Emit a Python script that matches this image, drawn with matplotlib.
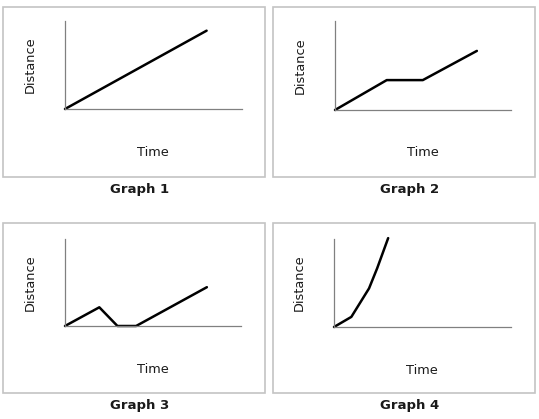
import matplotlib.pyplot as plt
from matplotlib.patches import Rectangle

W, H = 539, 419

# distance-time data for each graph (axis units 0..10)
time1 = [0, 8.0]
dist1 = [0, 8.9]
time2 = [0, 2.94, 4.99, 8.06]
dist2 = [0, 3.36, 3.36, 6.64]
time3 = [0, 1.95, 2.98, 4.04, 8.06]
dist3 = [0, 2.15, 0, 0, 4.46]
time4 = [0, 0.98, 1.98, 2.44, 3.06]
dist4 = [0, 1.15, 4.39, 6.68, 10.1]
titles = ["Graph 1", "Graph 2", "Graph 3", "Graph 4"]

series = [(time1, dist1), (time2, dist2), (time3, dist3), (time4, dist4)]

# panel layout in pixels: box (x0, y0, x1, y1), axes (x0, y0, x1, y1)
boxes = [(3, 7, 265, 177), (273, 7, 535, 177), (3, 223, 265, 393), (273, 223, 535, 393)]
axes_px = [(65, 21, 242, 109), (335, 21, 511, 110), (65, 239, 241, 326), (334, 239, 511, 327)]


def fx(px):
    return px / W


def fy(py):
    return 1 - py / H


fig = plt.figure(figsize=(W / 100, H / 100), dpi=100)
fig.patch.set_facecolor("white")

for i in range(4):
    bx0, by0, bx1, by1 = boxes[i]
    fig.add_artist(Rectangle((fx(bx0), fy(by1)), fx(bx1 - bx0), (by1 - by0) / H,
                             transform=fig.transFigure, fill=False,
                             edgecolor="#c4c4c4", linewidth=1.2))

    ax0, ay0, ax1, ay1 = axes_px[i]
    ax = fig.add_axes([fx(ax0), fy(ay1), fx(ax1 - ax0), (ay1 - ay0) / H])
    t, d = series[i]
    ax.plot(t, d, color="black", linewidth=1.8, solid_capstyle="round", clip_on=False)
    ax.set_xlim(0, 10)
    ax.set_ylim(0, 10)
    ax.set_xticks([])
    ax.set_yticks([])
    for s in ["top", "right"]:
        ax.spines[s].set_visible(False)
    for s in ["left", "bottom"]:
        ax.spines[s].set_color("#808080")
        ax.spines[s].set_linewidth(0.9)
    ax.patch.set_alpha(0)

    # labels
    fig.text(fx(ax0 - 35), fy((ay0 + ay1) / 2), "Distance", rotation=90,
             ha="center", va="center", fontsize=9.3, color="#1a1a1a")
    fig.text(fx(ax0 + 88), fy(ay1 + 43), "Time", ha="center", va="center",
             fontsize=9.3, color="#1a1a1a")
    fig.text(fx(bx0 + 137), fy(by1 + 12), titles[i], ha="center", va="center",
             fontsize=9.5, fontweight="bold", color="#1a1a1a")

fig.savefig("out.png", dpi=100)
